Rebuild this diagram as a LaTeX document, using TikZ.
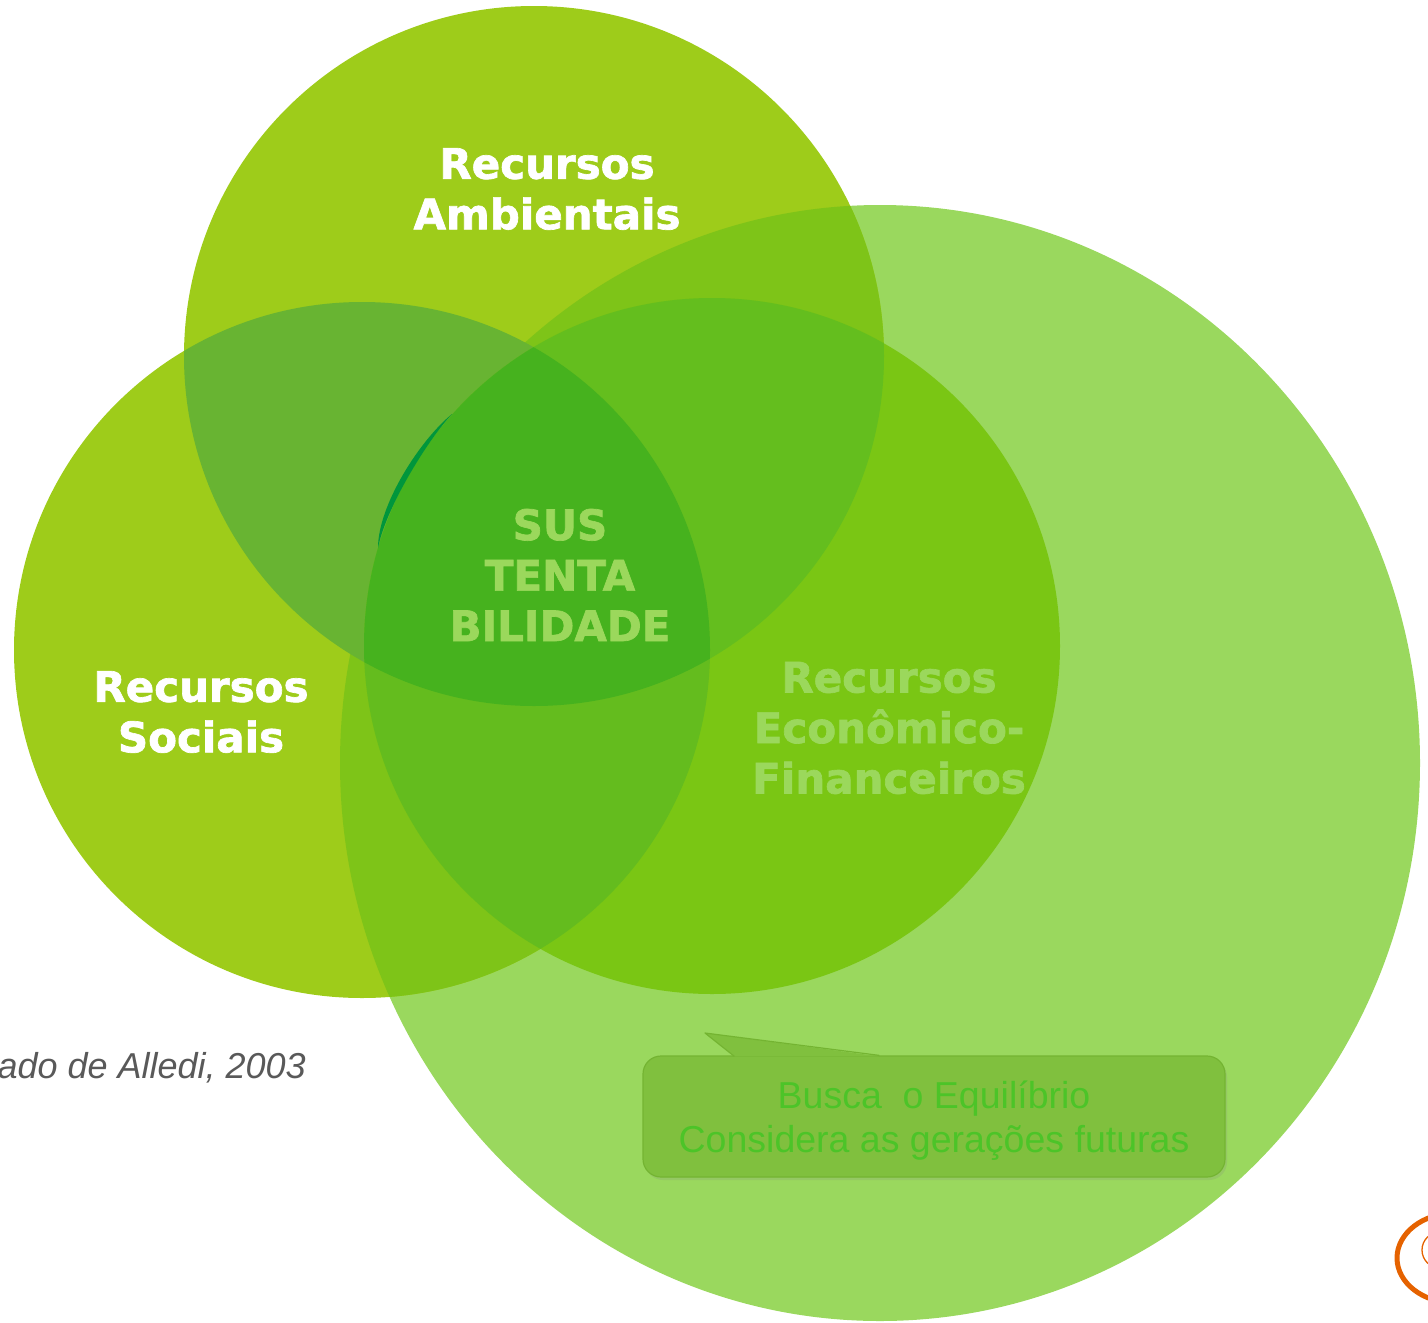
\documentclass[tikz,border=0pt]{standalone}
\usepackage{xcolor}
\usepackage{fontspec}
\setmainfont{Liberation Sans}
\newfontfamily\headfont{DejaVu Sans}[BoldFeatures={FakeBold=1.6}]
\usepackage{tikz}
\usetikzlibrary{positioning, shadows}

\definecolor{bigc}{RGB}{154,216,94}
\definecolor{ambc}{RGB}{158,204,26}
\definecolor{ambin}{RGB}{126,196,24}
\definecolor{ecoc}{RGB}{122,198,20}
\definecolor{ambsoc}{RGB}{104,180,50}
\definecolor{ambeco}{RGB}{100,190,30}
\definecolor{soceco}{RGB}{100,188,30}
\definecolor{triple}{RGB}{70,178,30}
\definecolor{sliver}{RGB}{0,150,60}
\definecolor{paletext}{RGB}{155,216,92}
\definecolor{notefill}{RGB}{128,192,62}
\definecolor{noteline}{RGB}{116,180,50}
\definecolor{notetext}{RGB}{76,196,40}

\begin{document}
\begin{tikzpicture}[x=1pt,y=-1pt]
\tikzstyle{head} = [font=\headfont\bfseries\fontsize{42}{50.5}\selectfont, align=center, text=white, inner sep=0pt]
\tikzstyle{pale} = [head, text=paletext]
\tikzstyle{note} = [draw=noteline, line width=1.2pt, fill=notefill, rounded corners=18pt, minimum width=582pt, minimum height=121pt, drop shadow={opacity=0.18, shadow xshift=2pt, shadow yshift=-3pt}]
\useasboundingbox (0,0) rectangle (1428,1323);
\clip (0,0) rectangle (1428,1323);

% big circle and the three resources
\fill[bigc] (880,763) ellipse [x radius=540pt, y radius=558pt];
\fill[ambc] (534,356) circle (350pt);
\fill[ambc] (362,650) circle (348pt);
\begin{scope}
  \clip (880,763) ellipse [x radius=540pt, y radius=558pt];
  \fill[ambin] (534,356) circle (350pt);
  \fill[ambin] (362,650) circle (348pt);
\end{scope}
\fill[ecoc] (712,646) circle (348pt);

\begin{scope}
  \clip (534,356) circle (350pt);
  \fill[ambsoc] (362,650) circle (348pt);
  \fill[ambeco] (712,646) circle (348pt);
\end{scope}
\begin{scope}
  \clip (362,650) circle (348pt);
  \fill[soceco] (712,646) circle (348pt);
  \clip (534,356) circle (350pt);
  \fill[triple] (712,646) circle (348pt);
\end{scope}
\fill[sliver] (452,414) .. controls (420,440) and (378,505) .. (378,548)
  .. controls (385,510) and (426,442) .. (452,414) -- cycle;

\draw
node (amb) [head] at (547,189) {Recursos\\Ambientais}
node (soc) [head] at (201,712) {Recursos\\Sociais}
node (sus) [pale] at (560,575) {SUS\\TENTA\\BILIDADE}
node (eco) [pale] at (889,728) {Recursos\\Econômico-\\Financeiros};

% callout
\node (box) [note] at (934,1116.5) {};
\coordinate (tip) at (705,1033);
\coordinate (tailL) at ([xshift=92pt,yshift=-1pt]box.north west);
\coordinate (tailR) at ([xshift=237pt,yshift=-1pt]box.north west);
\fill[notefill] (tip) -- (tailL) -- (tailR) -- cycle;
\draw[noteline, line width=1.2pt, line join=round] (tailL) -- (tip) -- ([xshift=237pt]box.north west);
\node (txt) [align=center, text=notetext, font=\fontsize{37.5}{44}\selectfont] at ([yshift=-4pt]box.center) {Busca\ \ o Equilíbrio\\Considera as gerações futuras};

\node (src) [anchor=east, text=black!65, font=\itshape\fontsize{36}{40}\selectfont, inner sep=0pt] at (306,1068) {ado de Alledi, 2003};

% orange mark in the corner
\draw[orange!85!red!90!black, line width=5pt] (1455,1258) ellipse [x radius=58pt, y radius=45pt];
\draw[orange!85!red!90!black, line width=1.3pt] (1440,1250) circle (18pt);
\end{tikzpicture}
\end{document}
